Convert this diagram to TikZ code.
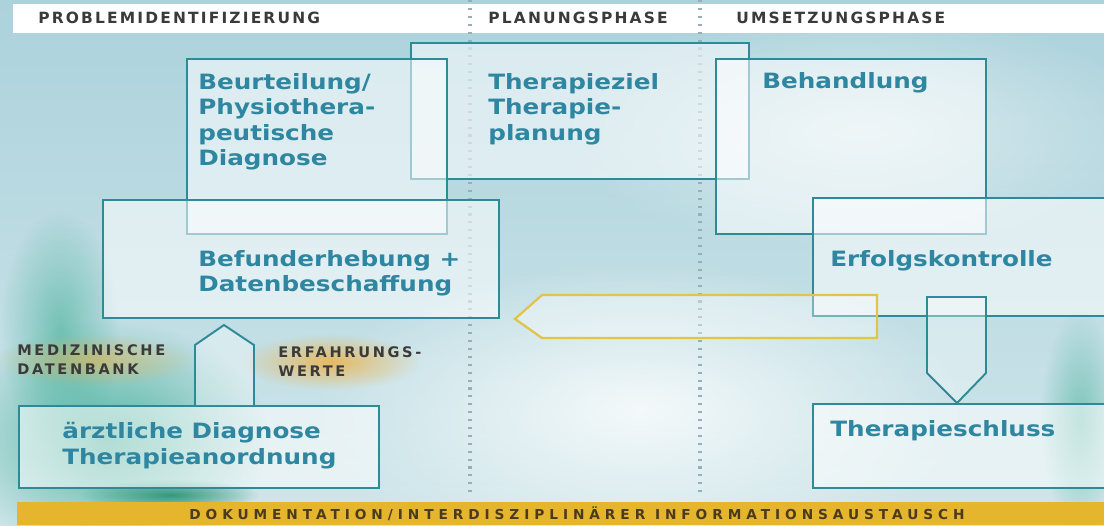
\documentclass[tikz,border=0pt]{standalone}
\usepackage{fontspec}
\setmainfont{DejaVu Sans}
\newfontfamily\boxfont{DejaVu Sans Bold}[FakeStretch=1.17]
\newfontfamily\capsfont{DejaVu Sans Bold}[LetterSpace=14]
\newfontfamily\labfont{DejaVu Sans Bold}[LetterSpace=18]
\newfontfamily\barfont{DejaVu Sans Bold}[LetterSpace=36]
\usetikzlibrary{fadings}
\definecolor{bgtop}{HTML}{ACD2DC}
\definecolor{bgbottom}{HTML}{CFE6EA}
\definecolor{boxline}{HTML}{2F8A98}
\definecolor{boxtext}{HTML}{2E86A0}
\definecolor{capgrey}{HTML}{3A3A3A}
\definecolor{barsun}{HTML}{E6B52E}
\definecolor{bartext}{HTML}{4A3B1E}
\definecolor{arrowgold}{HTML}{E2C548}
\definecolor{dotgrey}{HTML}{98AEB8}
\definecolor{leafgreen}{HTML}{3FAE95}
\definecolor{deepgreen}{HTML}{1E8A6A}
\definecolor{glowamber}{HTML}{F0B040}
\tikzfading[name=glow, inner color=transparent!0, outer color=transparent!100]
\begin{document}
\begin{tikzpicture}[x=0.02cm,y=-0.02cm,
  box/.style={draw=boxline, line width=1.1pt, fill=white, fill opacity=0.55, anchor=north west, inner sep=0pt},
  boxtxt/.style={text=boxtext, font=\boxfont\fontsize{12}{14.5}\selectfont, align=left, anchor=north west, inner sep=0pt},
  phase/.style={text=capgrey, font=\capsfont\fontsize{8.8}{10}\selectfont, anchor=west, inner sep=0pt},
  source/.style={text=capgrey, font=\labfont\fontsize{8.3}{10.8}\selectfont, align=left, anchor=north west, inner sep=0pt},
  phaseline/.style={dotgrey, line width=2.8pt, dash pattern=on 1.2pt off 3.3pt},
  tealarrow/.style={draw=boxline, line width=1.1pt, fill=white, fill opacity=0.35, line join=miter},
  goldarrow/.style={draw=arrowgold, line width=1.3pt, fill=white, fill opacity=0.35, line join=miter}]
\useasboundingbox (0,0) rectangle (1104,525);
\shade[top color=bgtop, bottom color=bgbottom] (0,0) rectangle (1104,525);
\fill[white, opacity=0.8, path fading=glow] (640,410) ellipse [x radius=330, y radius=150];
\fill[white, opacity=0.5, path fading=glow] (860,130) ellipse [x radius=300, y radius=120];
\fill[leafgreen, opacity=0.85, path fading=glow] (110,440) ellipse [x radius=160, y radius=120];
\fill[leafgreen, opacity=0.6, path fading=glow] (60,330) ellipse [x radius=60, y radius=120];
\fill[deepgreen, opacity=0.8, path fading=glow] (170,495) ellipse [x radius=90, y radius=16];
\fill[leafgreen, opacity=0.55, path fading=glow] (1080,420) ellipse [x radius=40, y radius=110];
\fill[glowamber, opacity=0.8, path fading=glow] (330,362) ellipse [x radius=90, y radius=28];
\fill[glowamber, opacity=0.55, path fading=glow] (95,360) ellipse [x radius=100, y radius=26];

\fill[white] (13,4) rectangle (1104,33);
\node[phase] (prob) at (38,18) {PROBLEMIDENTIFIZIERUNG};
\node[phase] (plan) at (488,18) {PLANUNGSPHASE};
\node[phase] (umse) at (736,18) {UMSETZUNGSPHASE};
\draw[phaseline] (470,0) -- (470,495);
\draw[phaseline] (700,0) -- (700,495);

\node[box, minimum width=6.76cm, minimum height=2.72cm] (ziel) at (410,42) {};
\node[box, minimum width=5.2cm, minimum height=3.5cm] (beurt) at (186,58) {};
\node[box, minimum width=5.4cm, minimum height=3.5cm] (behand) at (715,58) {};
\node[box, minimum width=7.92cm, minimum height=2.36cm] (befund) at (102,199) {};
\node[box, minimum width=6cm, minimum height=2.36cm] (erfolg) at (812,197) {};
\node[box, minimum width=6cm, minimum height=1.68cm] (schluss) at (812,403) {};
\node[box, minimum width=7.2cm, minimum height=1.64cm] (arzt) at (18,405) {};

\node[boxtxt] at ([shift={(12,15)}]beurt.north west) {Beurteilung/\\Physiothera-\\peutische\\Diagnose};
\node[boxtxt] at ([shift={(78,31)}]ziel.north west) {Therapieziel\\Therapie-\\planung};
\node[boxtxt] at ([shift={(47,14)}]behand.north west) {Behandlung};
\node[boxtxt] at ([shift={(96,51)}]befund.north west) {Befunderhebung +\\Datenbeschaffung};
\node[boxtxt] at ([shift={(18,53)}]erfolg.north west) {Erfolgskontrolle};
\node[boxtxt] at ([shift={(18,17)}]schluss.north west) {Therapieschluss};
\node[boxtxt] at ([shift={(44,17)}]arzt.north west) {ärztliche Diagnose\\Therapieanordnung};

\node[source] (medbank) at (17,344) {MEDIZINISCHE\\DATENBANK};
\node[source] (erfahr) at (278,346) {ERFAHRUNGS-\\WERTE};

\draw[tealarrow] (195,0 |- arzt.north) -- (195,345) -- (224,325) -- (254,345) -- (254,0 |- arzt.north);
\draw[tealarrow] (927,297) -- (927,373) -- (957,0 |- schluss.north) -- (986,373) -- (986,297) -- cycle;
\draw[goldarrow] (877,295) -- (542,295) -- (515,0 |- befund.south) -- (542,338) -- (877,338) -- cycle;

\fill[barsun] (17,502) rectangle (1104,525);
\node[text=bartext, font=\barfont\fontsize{7.8}{9}\selectfont, inner sep=0pt] (doku) at (577,514) {DOKUMENTATION/INTERDISZIPLINÄRER INFORMATIONSAUSTAUSCH};
\end{tikzpicture}
\end{document}
